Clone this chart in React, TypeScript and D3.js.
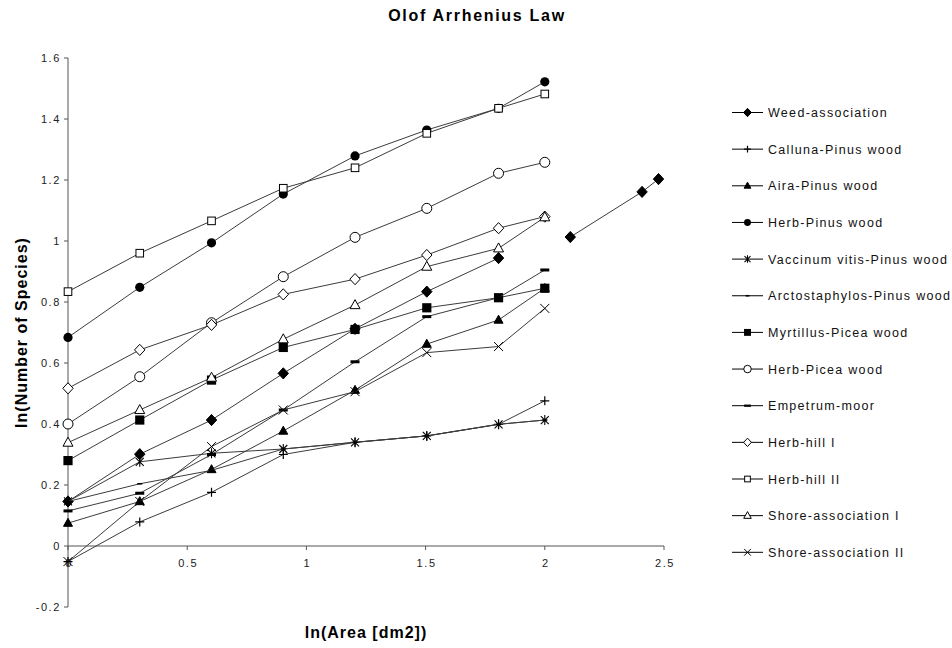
import React from "react";
import * as d3 from "d3";

const xAreas = [0, 0.301, 0.602, 0.903, 1.204, 1.505, 1.806, 2.0];
const xWeed = [0, 0.301, 0.602, 0.903, 1.204, 1.505, 1.806, 2.0, 2.107, 2.408, 2.477];

const weedAssociation = [0.146, 0.301, 0.413, 0.566, 0.712, 0.834, 0.944, null, 1.013, 1.161, 1.203];
const callunaPinus = [-0.051, 0.079, 0.176, 0.3, 0.34, 0.361, 0.399, 0.476];
const airaPinus = [0.075, 0.146, 0.251, 0.377, 0.511, 0.662, 0.741, 0.845];
const herbPinus = [0.684, 0.848, 0.994, 1.154, 1.279, 1.364, 1.435, 1.522];
const vaccinumPinus = [0.146, 0.276, 0.304, 0.318, 0.34, 0.361, 0.399, 0.413];
const arctostaphylosPinus = [0.146, 0.204, 0.248, 0.318, 0.34, 0.361, 0.399, 0.413];
const myrtillusPicea = [0.28, 0.413, 0.544, 0.651, 0.71, 0.781, 0.814, 0.845];
const herbPicea = [0.4, 0.555, 0.732, 0.883, 1.012, 1.107, 1.222, 1.258];
const empetrumMoor = [0.115, 0.173, 0.3, 0.446, 0.604, 0.752, 0.814, 0.905];
const herbHillI = [0.517, 0.643, 0.725, 0.825, 0.875, 0.954, 1.042, 1.08];
const herbHillII = [0.834, 0.96, 1.066, 1.173, 1.24, 1.353, 1.435, 1.482];
const shoreI = [0.339, 0.446, 0.552, 0.678, 0.79, 0.916, 0.976, 1.078];
const shoreII = [-0.051, 0.146, 0.326, 0.446, 0.506, 0.634, 0.654, 0.779];

const seriesNames = [
  "Weed-association",
  "Calluna-Pinus wood",
  "Aira-Pinus wood",
  "Herb-Pinus wood",
  "Vaccinum vitis-Pinus wood",
  "Arctostaphylos-Pinus wood",
  "Myrtillus-Picea wood",
  "Herb-Picea wood",
  "Empetrum-moor",
  "Herb-hill I",
  "Herb-hill II",
  "Shore-association I",
  "Shore-association II",
];
const seriesMarkers = [
  "diamondFilled", "plus", "triangleFilled", "circleFilled", "asterisk", "dashSmall",
  "squareFilled", "circleOpen", "dash", "diamondOpen", "squareOpen", "triangleOpen", "x",
];
const seriesValues = [
  weedAssociation, callunaPinus, airaPinus, herbPinus, vaccinumPinus, arctostaphylosPinus,
  myrtillusPicea, herbPicea, empetrumMoor, herbHillI, herbHillII, shoreI, shoreII,
];
const seriesX = [xWeed, xAreas, xAreas, xAreas, xAreas, xAreas, xAreas, xAreas, xAreas, xAreas, xAreas, xAreas, xAreas];

const yTicks = [-0.2, 0, 0.2, 0.4, 0.6, 0.8, 1, 1.2, 1.4, 1.6];
const xTicks = [0, 0.5, 1, 1.5, 2, 2.5];

const FONT = "'Liberation Sans', Arial, Helvetica, sans-serif";
const LINE = "#3c3c3c";

function Marker({ type, cx, cy, s = 1 }: { type: string; cx: number; cy: number; s?: number }) {
  const k = (v: number) => v * s;
  switch (type) {
    case "diamondFilled":
    case "diamondOpen": {
      const w = k(5.2), h = k(5.6);
      return (
        <path
          d={`M${cx},${cy - h}L${cx + w},${cy}L${cx},${cy + h}L${cx - w},${cy}Z`}
          fill={type === "diamondFilled" ? "#000" : "#fff"}
          stroke="#000"
          strokeWidth={1}
        />
      );
    }
    case "plus":
      return (
        <path d={`M${cx - k(4.5)},${cy}H${cx + k(4.5)}M${cx},${cy - k(4.5)}V${cy + k(4.5)}`} stroke="#000" strokeWidth={1.2} />
      );
    case "triangleFilled":
    case "triangleOpen": {
      const w = k(type === "triangleFilled" ? 4.5 : 5), h = k(type === "triangleFilled" ? 8 : 9);
      return (
        <path
          d={`M${cx},${cy - h * 0.6}L${cx + w},${cy + h * 0.4}L${cx - w},${cy + h * 0.4}Z`}
          fill={type === "triangleFilled" ? "#000" : "#fff"}
          stroke="#000"
          strokeWidth={1}
        />
      );
    }
    case "circleFilled":
      return <circle cx={cx} cy={cy} r={k(4.6)} fill="#000" />;
    case "circleOpen":
      return <circle cx={cx} cy={cy} r={k(5)} fill="#fff" stroke="#000" strokeWidth={1} />;
    case "asterisk":
      return (
        <path
          d={`M${cx - k(4)},${cy - k(4)}L${cx + k(4)},${cy + k(4)}M${cx - k(4)},${cy + k(4)}L${cx + k(4)},${cy - k(4)}M${cx},${cy - k(5)}V${cy + k(5)}`}
          stroke="#000"
          strokeWidth={1.1}
        />
      );
    case "dashSmall":
      return <rect x={cx - k(2.5)} y={cy - 0.8} width={k(5)} height={1.6} fill="#000" />;
    case "dash":
      return <rect x={cx - k(4.5)} y={cy - 1.5 * s} width={k(9)} height={3 * s} fill="#000" />;
    case "squareFilled": {
      const a = k(4.6);
      return <rect x={cx - a} y={cy - a} width={2 * a} height={2 * a} fill="#000" />;
    }
    case "squareOpen": {
      const a = k(3.8);
      return <rect x={cx - a} y={cy - a} width={2 * a} height={2 * a} fill="#fff" stroke="#000" strokeWidth={1} />;
    }
    case "x":
      return (
        <path
          d={`M${cx - k(4.5)},${cy - k(4.5)}L${cx + k(4.5)},${cy + k(4.5)}M${cx - k(4.5)},${cy + k(4.5)}L${cx + k(4.5)},${cy - k(4.5)}`}
          stroke="#000"
          strokeWidth={1}
        />
      );
    default:
      return null;
  }
}

export default function App() {
  const W = 952, H = 648;
  const x = d3.scaleLinear().domain([0, 2.5]).range([68, 664]);
  const y = d3.scaleLinear().domain([-0.2, 1.6]).range([607, 58]);

  const fmt = (v: number) => String(+v.toFixed(1));

  const series = seriesNames.map((name, i) => ({
    name,
    marker: seriesMarkers[i],
    pts: seriesValues[i].map((v, j) => ({ x: seriesX[i][j], y: v })),
  }));

  const line = d3
    .line<{ x: number; y: number | null }>()
    .defined((d) => d.y !== null)
    .x((d) => x(d.x))
    .y((d) => y(d.y as number));

  const legendX = 732, legendY0 = 112.5, legendDy = 36.65;

  return (
    <svg
      width={W}
      height={H}
      style={{ position: "absolute", left: 0, top: 0, background: "#fff" }}
      fontFamily={FONT}
    >
      <rect width={W} height={H} fill="#fff" />
      <text x={477} y={21} textAnchor="middle" fontSize={16} fontWeight="bold" letterSpacing={1.7}>
        Olof Arrhenius Law
      </text>

      {/* y axis */}
      <line x1={x(0)} x2={x(0)} y1={y(1.6)} y2={y(-0.2)} stroke="#555" strokeWidth={1} />
      {yTicks.map((t) => (
        <g key={"yt" + t}>
          <line x1={x(0) - 4} x2={x(0)} y1={y(t)} y2={y(t)} stroke="#555" />
          <text x={61} y={y(t)} dy="0.35em" textAnchor="end" fontSize={11} letterSpacing={1.6} fill="#222">
            {fmt(t)}
          </text>
        </g>
      ))}
      {/* x axis */}
      <line x1={x(0)} x2={x(2.5)} y1={y(0)} y2={y(0)} stroke="#555" strokeWidth={1} />
      {xTicks.map((t) => (
        <g key={"xt" + t}>
          <line x1={x(t)} x2={x(t)} y1={y(0)} y2={y(0) + 4} stroke="#555" />
          <text x={x(t) + 1} y={567} textAnchor="middle" fontSize={11} letterSpacing={1.6} fill="#222">
            {fmt(t)}
          </text>
        </g>
      ))}

      <text
        transform={`translate(27,${(y(1.6) + y(-0.2)) / 2}) rotate(-90)`}
        textAnchor="middle"
        fontSize={16}
        fontWeight="bold"
        letterSpacing={1}
      >
        ln(Number of Species)
      </text>
      <text x={(x(0) + x(2.5)) / 2} y={638} textAnchor="middle" fontSize={16} fontWeight="bold" letterSpacing={1}>
        ln(Area [dm2])
      </text>

      {/* series */}
      {series.map((s) => (
        <g key={s.name}>
          <path d={line(s.pts) || ""} fill="none" stroke={LINE} strokeWidth={1} />
          {s.pts
            .filter((p) => p.y !== null)
            .map((p, j) => (
              <Marker key={j} type={s.marker} cx={x(p.x)} cy={y(p.y as number)} />
            ))}
        </g>
      ))}

      {/* legend */}
      {series.map((s, i) => {
        const ly = legendY0 + i * legendDy;
        return (
          <g key={"lg" + s.name}>
            <line x1={legendX} x2={legendX + 31} y1={ly} y2={ly} stroke="#000" strokeWidth={1} />
            <Marker type={s.marker} cx={legendX + 15.5} cy={ly} s={0.75} />
            <text x={768} y={ly} dy="0.36em" fontSize={12.5} letterSpacing={1.3} fill="#111">
              {s.name}
            </text>
          </g>
        );
      })}
    </svg>
  );
}
